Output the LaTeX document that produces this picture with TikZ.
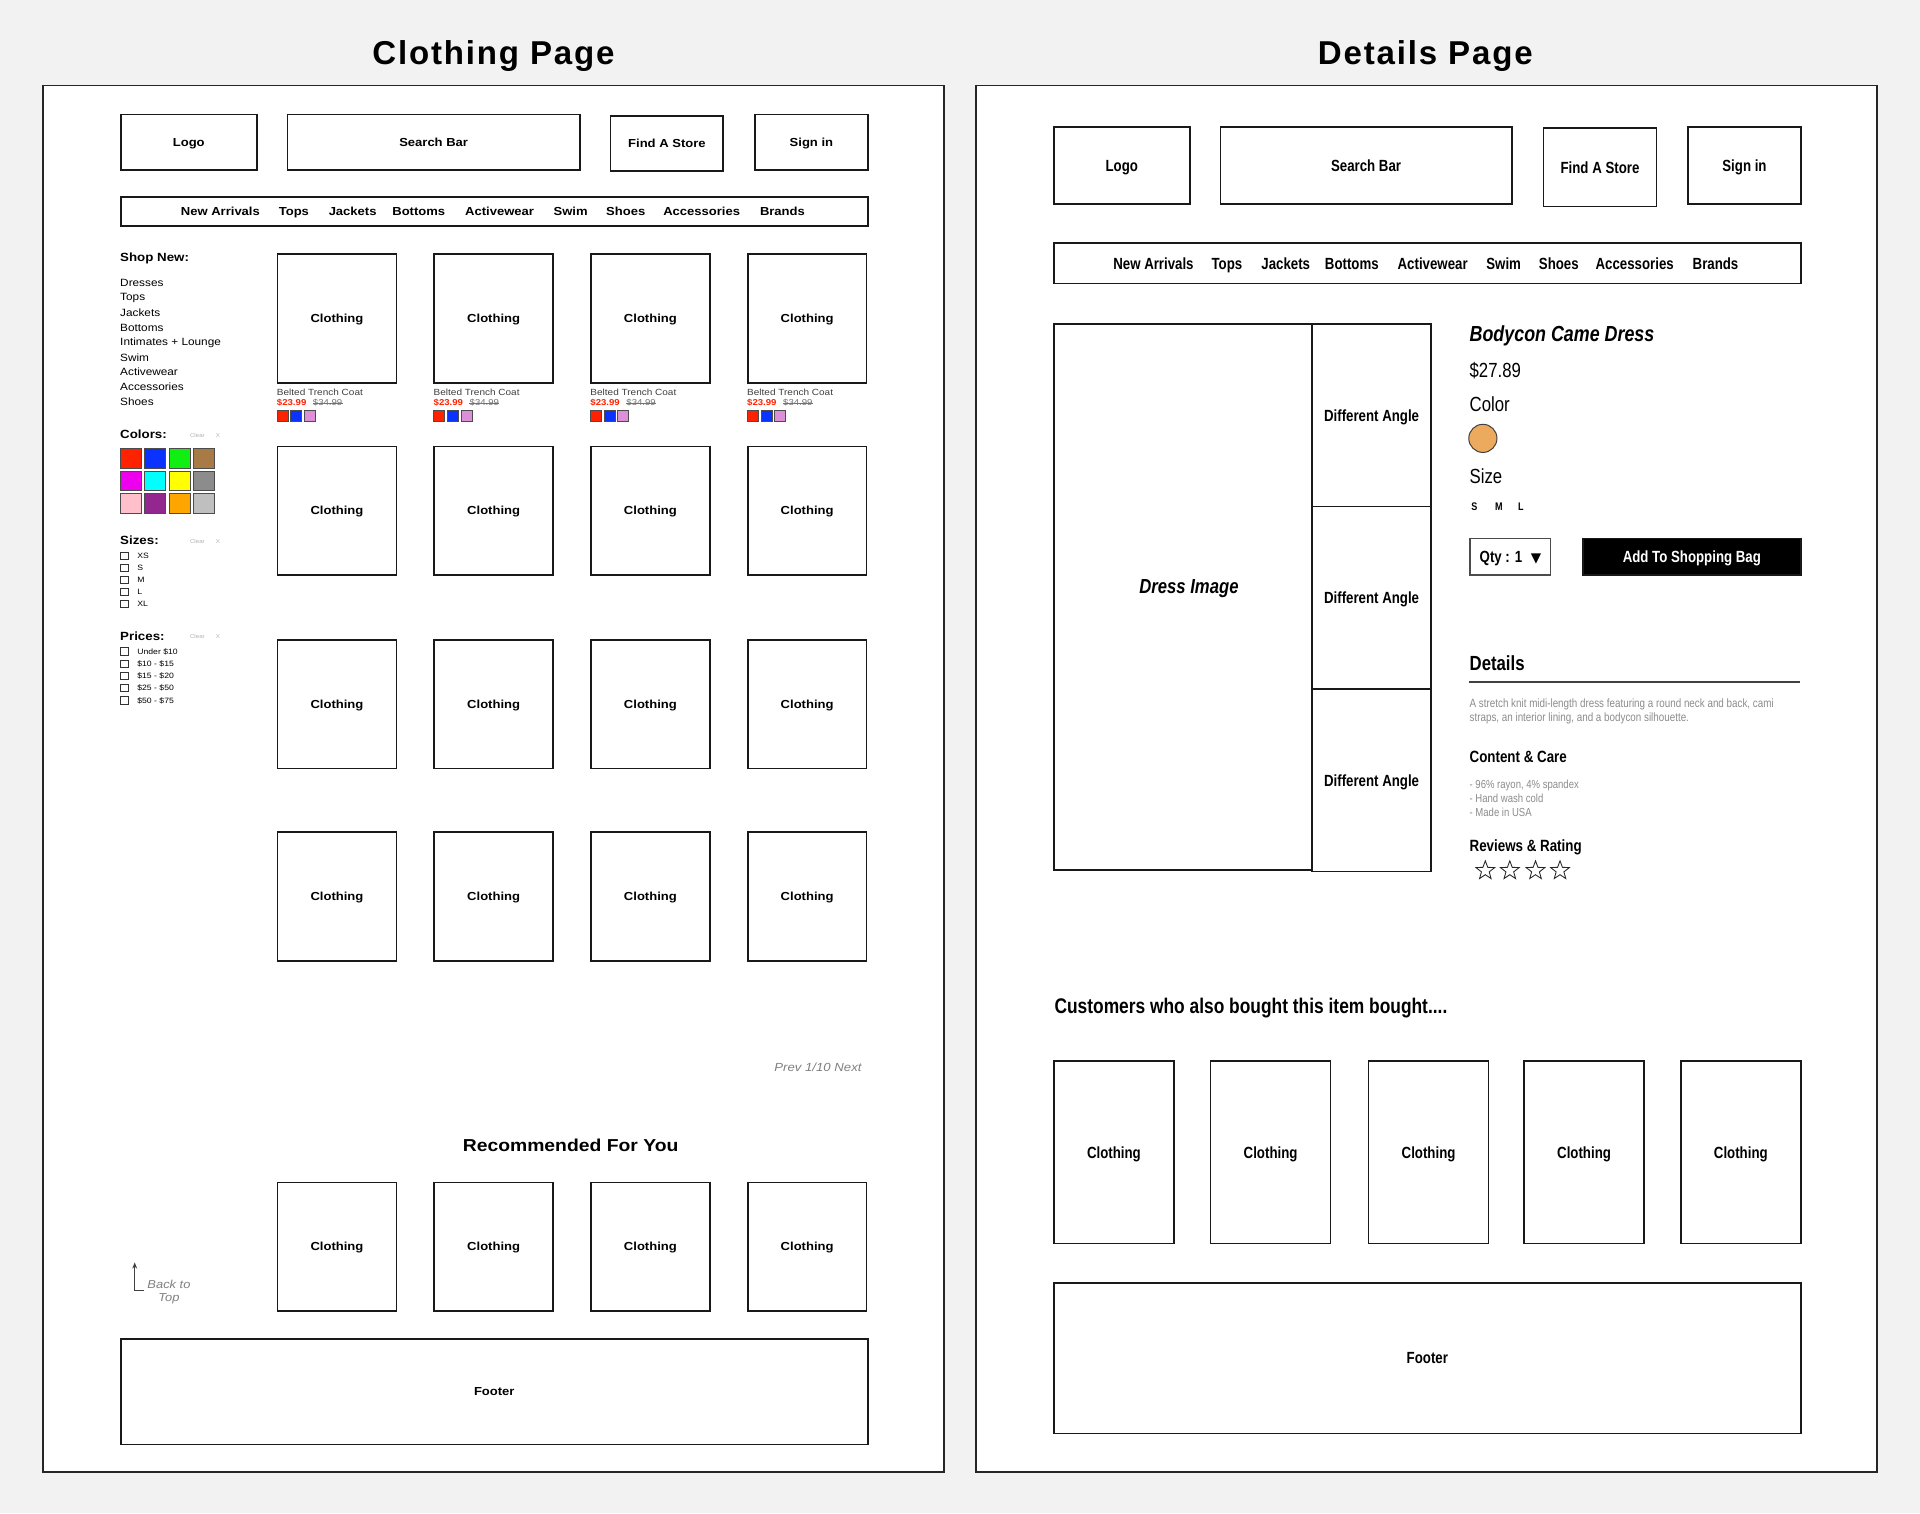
\documentclass[tikz,border=0pt]{standalone}
\usepackage{fontspec}
\setmainfont{Liberation Sans}
\newfontfamily\lsf[FakeStretch=1.12]{Liberation Sans}
\newfontfamily\rsf[FakeStretch=0.82]{Liberation Sans}
\newfontfamily\titlefont[LetterSpace=5.5]{Liberation Sans}
\newfontfamily\symfont{DejaVu Sans}
\usepackage{xcolor}
\usetikzlibrary{calc,positioning,arrows.meta,shapes.geometric}

\definecolor{bgcol}{HTML}{F2F2F2}
\definecolor{swR}{HTML}{FF2200}
\definecolor{swB}{HTML}{0A33FF}
\definecolor{swG}{HTML}{11EE11}
\definecolor{swBr}{HTML}{A87A45}
\definecolor{swM}{HTML}{EE00EE}
\definecolor{swC}{HTML}{00FFFF}
\definecolor{swY}{HTML}{FFFF00}
\definecolor{swGr}{HTML}{8C8C8C}
\definecolor{swP}{HTML}{FFC0CB}
\definecolor{swPu}{HTML}{93278F}
\definecolor{swO}{HTML}{FFA500}
\definecolor{swLg}{HTML}{BFBFBF}
\definecolor{swPl}{HTML}{DD8FD8}
\definecolor{dotOr}{HTML}{EBAA5E}

\begin{document}
\begin{tikzpicture}[
    x=1pt, y=-1pt,
    panel/.style={draw=black!85, line width=1.2pt, fill=white},
    box/.style={draw=black!90, line width=1.3pt, fill=white, anchor=north west,
                inner sep=0pt, align=center},
    sz/.style 2 args={minimum width=#1, minimum height=#2},
    txt/.style={anchor=west, inner sep=0pt, align=left},
    ttl/.style={font=\titlefont\bfseries\fontsize{27}{30}\selectfont},
    lb/.style={font=\lsf\bfseries\fontsize{9.5}{11}\selectfont, text height=6.8pt, text depth=0pt},
    lhead/.style={font=\lsf\bfseries\fontsize{9.7}{11}\selectfont},
    litem/.style={font=\lsf\fontsize{8.6}{10}\selectfont},
    lsmall/.style={font=\lsf\fontsize{6.3}{8}\selectfont},
    lclear/.style={font=\lsf\fontsize{4.5}{5}\selectfont, text=black!30},
    lgrey/.style={font=\lsf\itshape\fontsize{9.6}{11}\selectfont, text=black!50},
    rb/.style={font=\rsf\bfseries\fontsize{13.2}{15}\selectfont, text height=9.5pt, text depth=0pt},
    rbig/.style={font=\rsf\fontsize{16.7}{19}\selectfont},
    rgrey/.style={font=\rsf\fontsize{9.8}{11.5}\selectfont, text=black!45},
    swatch/.style={draw=black!70, line width=0.7pt, minimum width=17, minimum height=16,
                   inner sep=0pt, anchor=north west},
    mini/.style={draw=black!70, line width=0.6pt, minimum size=9, inner sep=0pt},
    chk/.style={draw=black!80, line width=0.7pt, minimum width=7, minimum height=6, inner sep=0pt},
    rstar/.style={star, star points=5, star point ratio=2.4, draw=black!85, line width=0.7pt,
                  minimum size=16, inner sep=0pt}
]
\fill[bgcol] (0,0) rectangle (1568,1236);
\useasboundingbox (0,0) rectangle (1568,1236);

% titles and page frames
\node[ttl] (titleL) at (403,46) {Clothing Page};
\node[ttl] (titleR) at (1164,46) {Details Page};
\draw[panel] (35,70) rectangle (771,1202);
\draw[panel] (797,70) rectangle (1533,1202);

%% ---------------- clothing page ----------------
\node[box, lb, sz={111}{45}] (logoL)   at (98,93)  {Logo};
\node[box, lb, sz={239}{45}] (searchL) at (234,93) {Search Bar};
\node[box, lb, sz={92}{45}]  (storeL)  at (498,94) {Find A Store};
\node[box, lb, sz={92}{45}]  (signL)   at (616,93) {Sign in};
\node[box, sz={610}{24}]     (navL)    at (98,160) {};
\foreach \entry/\dx [count=\i] in {New Arrivals/82,Tops/142,Jackets/190,Bottoms/244,
    Activewear/310,Swim/368,Shoes/413,Accessories/475,Brands/541}
  \node[lb, inner sep=0pt] (navL-\i) at ($(navL.west)+(\dx,0)$) {\entry};

% side filters
\node[txt, lhead] (shopnew) at (98,211) {Shop New:};
\foreach \entry [count=\i from 0] in {Dresses,Tops,Jackets,Bottoms,Intimates + Lounge,
    Swim,Activewear,Accessories,Shoes}
  \node[txt, litem] (shop-\i) at (98,{231+12.15*\i}) {\entry};

\node[txt, lhead] (colorshd) at (98,355) {Colors:};
\node[txt, lclear] (clrC) at (155,356) {Clear};
\node[txt, lclear] (xC)   at (176,356) {X};
\foreach \col [count=\i from 0] in {swR,swB,swG,swBr,swM,swC,swY,swGr,swP,swPu,swO,swLg}
  \node[swatch, fill=\col] (col-\i) at ({98+20*mod(\i,4)},{366+18.5*int(\i/4)}) {};

\node[txt, lhead] (sizeshd) at (98,441) {Sizes:};
\node[txt, lclear] (clrS) at (155,442) {Clear};
\node[txt, lclear] (xS)   at (176,442) {X};
\foreach \entry [count=\i from 0] in {XS,S,M,L,XL} {
  \node[chk] (szbox-\i) at (101.5,{454+9.8*\i}) {};
  \node[txt, lsmall] (szlbl-\i) at (112,{454+9.8*\i}) {\entry};
}

\node[txt, lhead] (priceshd) at (98,520) {Prices:};
\node[txt, lclear] (clrP) at (155,520) {Clear};
\node[txt, lclear] (xP)   at (176,520) {X};
\foreach \entry [count=\i from 0] in {Under \$10,\$10 - \$15,\$15 - \$20,\$25 - \$50,\$50 - \$75} {
  \node[chk] (prbox-\i) at (101.5,{532+10*\i}) {};
  \node[txt, lsmall] (prlbl-\i) at (112,{532+10*\i}) {\entry};
}

% product grid
\foreach \r/\y in {1/207,2/364,3/522,4/679}
  \foreach \c/\x in {1/226,2/354,3/482,4/610}
    \node[box, lb, sz={97}{105}] (cl-\r-\c) at (\x,\y) {Clothing};

\foreach \c/\x in {1/226,2/354,3/482,4/610} {
  \node[txt, font=\lsf\fontsize{7.3}{8}\selectfont, text=black!75] (name-\c) at (\x,320) {Belted Trench Coat};
  \node[txt, font=\lsf\bfseries\fontsize{7}{8}\selectfont, text=swR] (price-\c) at (\x,329) {\$23.99};
  \node[txt, font=\lsf\fontsize{7}{8}\selectfont, text=black!55, right=5pt of price-\c] (old-\c) {\$34.99};
  \draw[black!55, line width=0.5pt] (old-\c.west) -- (old-\c.east);
  \node[mini, fill=swR, anchor=north west] (m-\c-1) at (\x,335) {};
  \node[mini, fill=swB, right=1.5pt of m-\c-1] (m-\c-2) {};
  \node[mini, fill=swPl, right=1.5pt of m-\c-2] (m-\c-3) {};
}

\node[lgrey] (prev) at (668,872) {Prev 1/10 Next};
\node[font=\lsf\bfseries\fontsize{14.1}{16}\selectfont] (rechd) at (466,935) {Recommended For You};
\foreach \c/\x in {1/226,2/354,3/482,4/610}
  \node[box, lb, sz={97}{105}] (rec-\c) at (\x,965) {Clothing};

% back to top
\coordinate (btcorner) at (118,1054);
\coordinate (bttip) at (110,1031);
\draw[black!75, line width=0.9pt, -{Stealth[length=5pt,width=4pt]}] (btcorner) -| (bttip);
\node[lgrey, align=center, font=\lsf\itshape\fontsize{9.4}{10.5}\selectfont] (backtop) at (138,1055) {Back to\\Top};

\node[box, lb, sz={610}{86}] (footL) at (98,1093) {Footer};

%% ---------------- details page ----------------
\node[box, rb, sz={111}{63}] (logoR)   at (860,103)  {Logo};
\node[box, rb, sz={238}{63}] (searchR) at (996,103)  {Search Bar};
\node[box, rb, sz={92}{64}]  (storeR)  at (1260,104) {Find A Store};
\node[box, rb, sz={92}{63}]  (signR)   at (1378,103) {Sign in};
\node[box, sz={610}{33}]     (navR)    at (860,198)  {};
\foreach \entry/\dx [count=\i] in {New Arrivals/82,Tops/142,Jackets/190,Bottoms/244,
    Activewear/310,Swim/368,Shoes/413,Accessories/475,Brands/541}
  \node[rb, inner sep=0pt] (navR-\i) at ($(navR.west)+(\dx,0)$) {\entry};

% images
\node[box, sz={211}{446}] (dress) at (860,264) {};
\node[font=\rsf\bfseries\itshape\fontsize{16.6}{19}\selectfont] (dresslbl) at (971,481) {Dress Image};
\foreach \k in {0,1,2}
  \node[box, rb, sz={97}{149}] (angle-\k) at (1071,{264+149*\k}) {Different Angle};

% product info
\node[txt, font=\rsf\bfseries\itshape\fontsize{17.8}{20}\selectfont] (prodname) at (1200,274) {Bodycon Came Dress};
\node[txt, rbig] (prodprice) at (1200,303) {\$27.89};
\node[txt, rbig] (colorlbl)  at (1200,330) {Color};
\node[circle, draw=black!75, line width=0.8pt, fill=dotOr, minimum size=23, inner sep=0pt] (colordot) at (1211,358) {};
\node[txt, rbig] (sizelbl) at (1200,389) {Size};
\foreach \entry/\x [count=\i] in {S/1204,M/1224,L/1242}
  \node[font=\rsf\bfseries\fontsize{9}{10}\selectfont, inner sep=0pt] (sml-\i) at (\x,414) {\entry};
\node[box, rb, sz={66}{30}, draw=black!70, line width=1pt] (qty) at (1200,439) {Qty : 1\hspace{7pt}{\symfont\fontsize{11}{12}\selectfont ▼}};
\node[box, rb, sz={178}{30}, fill=black, text=white] (bag) at (1292,439) {Add To Shopping Bag};

\node[txt, font=\rsf\bfseries\fontsize{16.7}{19}\selectfont] (dethd) at (1200,542) {Details};
\draw[black!75, line width=1.1pt] (1200,557) -- (1470,557);
\node[txt, rgrey] (detdesc) at (1200,581) {A stretch knit midi-length dress featuring a round neck and back, cami\\straps, an interior lining, and a bodycon silhouette.};
\node[txt, font=\rsf\bfseries\fontsize{13.3}{15}\selectfont] (carehd) at (1200,618) {Content \& Care};
\node[txt, rgrey, font=\rsf\fontsize{9.5}{11.7}\selectfont] (caretxt) at (1200,652) {- 96\% rayon, 4\% spandex\\- Hand wash cold\\- Made in USA};
\node[txt, font=\rsf\bfseries\fontsize{13.3}{15}\selectfont] (revhd) at (1200,692) {Reviews \& Rating};
\foreach \x [count=\i] in {1213,1233,1254,1274}
  \node[rstar] (star-\i) at (\x,711) {};

% also bought
\node[txt, font=\rsf\bfseries\fontsize{17.3}{20}\selectfont] (alsohd) at (861,823) {Customers who also bought this item bought....};
\foreach \c/\x in {1/860,2/988,3/1117,4/1244,5/1372}
  \node[box, rb, sz={98}{149}] (buy-\c) at (\x,866) {Clothing};

\node[box, rb, sz={610}{123}] (footR) at (860,1047) {Footer};
\end{tikzpicture}
\end{document}
